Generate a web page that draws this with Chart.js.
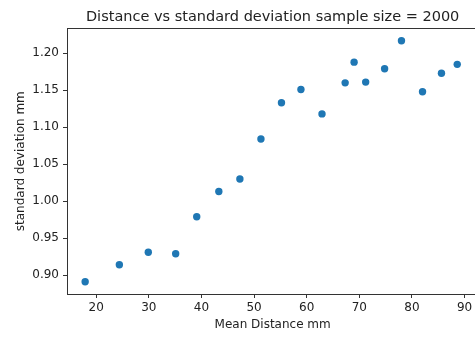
<!DOCTYPE html>
<html>
<head>
<meta charset="utf-8">
<script src="https://cdn.jsdelivr.net/npm/chart.js@4/dist/chart.umd.min.js"></script>
<style>
html, body { margin: 0; padding: 0; overflow: hidden; background: #fff; }
canvas { display: block; }
</style>
</head>
<body>
<canvas id="c" width="482" height="337"></canvas>
<script>
const meanDistance = [17.9, 24.4, 29.9, 35.1, 39.1, 43.3, 47.3, 51.3, 55.2, 58.9, 62.9, 67.3, 69.0, 71.2, 74.8, 78.0, 82.0, 85.6, 88.6];
const stdDeviation = [0.891, 0.914, 0.931, 0.929, 0.979, 1.013, 1.030, 1.084, 1.133, 1.151, 1.118, 1.160, 1.188, 1.161, 1.179, 1.217, 1.148, 1.173, 1.185];
const xTicks = [20, 30, 40, 50, 60, 70, 80, 90];
const yTicks = [0.90, 0.95, 1.00, 1.05, 1.10, 1.15, 1.20];

const points = meanDistance.map((x, i) => ({ x: x, y: stdDeviation[i] }));
const FONT = 'DejaVu Sans';
const AXIS = '#333';
const TEXT = '#222';

const framePlugin = {
  id: 'frame',
  afterDatasetsDraw(chart) {
    const a = chart.chartArea, ctx = chart.ctx;
    ctx.save();
    ctx.strokeStyle = AXIS;
    ctx.lineWidth = 1;
    ctx.strokeRect(Math.round(a.left) + 0.5, Math.round(a.top) + 0.5, Math.round(a.right - a.left), Math.round(a.bottom - a.top));
    ctx.restore();
  }
};

new Chart(document.getElementById('c'), {
  type: 'scatter',
  data: {
    datasets: [{
      data: points,
      backgroundColor: '#1f77b4',
      borderWidth: 0,
      pointRadius: 3.7,
      pointHoverRadius: 3.7
    }]
  },
  options: {
    responsive: false,
    animation: false,
    devicePixelRatio: 1,
    layout: { padding: { left: 0, right: 0, top: 0, bottom: 0 } },
    plugins: {
      legend: { display: false },
      tooltip: { enabled: false },
      title: {
        display: true,
        fullSize: false,
        align: 'center',
        text: 'Distance vs standard deviation sample size = 2000',
        color: TEXT,
        font: { family: FONT, size: 14.5, weight: 'normal' },
        padding: { top: 9, bottom: 2 }
      }
    },
    scales: {
      x: {
        type: 'linear',
        min: 14.45,
        max: 92.6,
        afterBuildTicks: s => { s.ticks = xTicks.map(v => ({ value: v })); },
        afterFit: s => { s.height = 43; },
        grid: { drawOnChartArea: false, drawTicks: true, tickLength: 4, color: AXIS },
        border: { display: true, color: AXIS },
        ticks: { color: TEXT, font: { family: FONT, size: 12 }, padding: 3, maxRotation: 0 },
        title: { display: true, text: 'Mean Distance mm', color: TEXT, font: { family: FONT, size: 12 }, padding: { top: 0, bottom: 5 } }
      },
      y: {
        type: 'linear',
        min: 0.8745,
        max: 1.2336,
        afterBuildTicks: s => { s.ticks = yTicks.map(v => ({ value: v })); },
        afterFit: s => { s.width = 67; },
        grid: { drawOnChartArea: false, drawTicks: true, tickLength: 4, color: AXIS },
        border: { display: true, color: AXIS },
        ticks: { color: TEXT, font: { family: FONT, size: 12 }, padding: 4, callback: v => Number(v).toFixed(2) },
        title: { display: true, text: 'standard deviation mm', color: TEXT, font: { family: FONT, size: 12 }, padding: { top: 14, bottom: 0 } }
      }
    }
  },
  plugins: [framePlugin]
});
</script>
</body>
</html>
